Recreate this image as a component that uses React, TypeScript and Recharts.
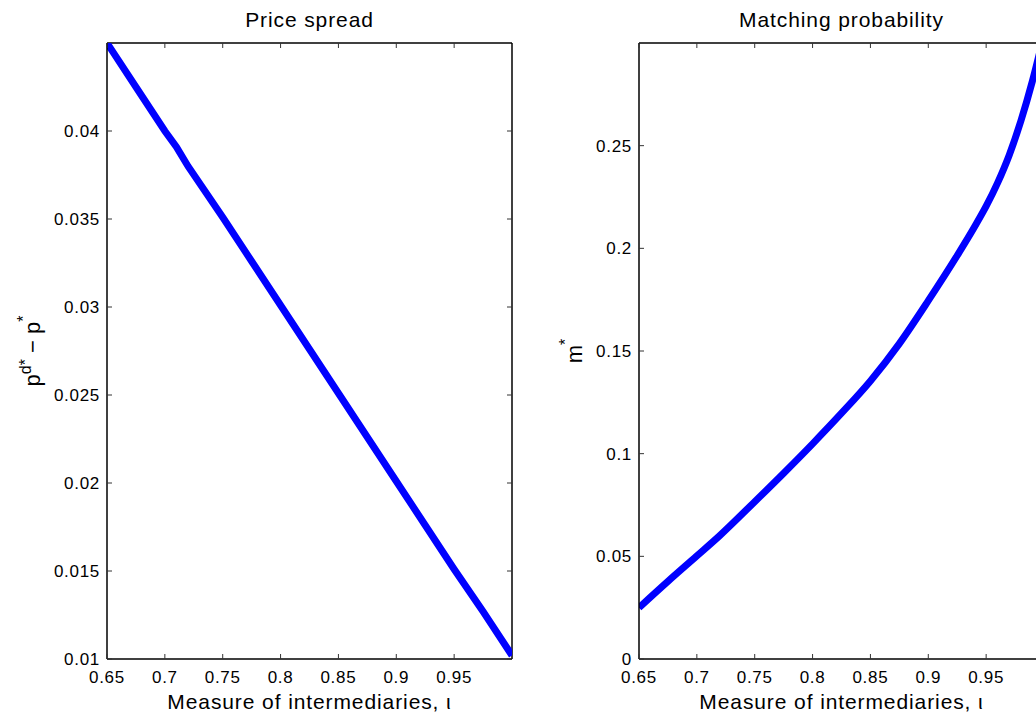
import React from 'react';
import { LineChart, Line, XAxis, YAxis, ReferenceLine } from 'recharts';

// measure of intermediaries (x axis, shared by both panels)
const iotaTicks = [0.65, 0.7, 0.75, 0.8, 0.85, 0.9, 0.95];

// left panel: price spread p^{d*} - p^*
const spreadIota = [0.65, 0.675, 0.7, 0.71, 0.72, 0.75, 0.775, 0.8, 0.825, 0.85, 0.875, 0.9, 0.925, 0.95, 0.975, 1.0];
const spreadValues = [0.045, 0.0425, 0.04, 0.0391, 0.038, 0.0351, 0.0326, 0.0301, 0.0276, 0.0251, 0.0226, 0.0201, 0.0176, 0.0151, 0.0127, 0.0102];
const spreadTicks = [0.01, 0.015, 0.02, 0.025, 0.03, 0.035, 0.04];

// right panel: matching probability m^*
const matchIota = [0.65, 0.675, 0.7, 0.72, 0.75, 0.775, 0.8, 0.825, 0.85, 0.875, 0.9, 0.925, 0.94, 0.95, 0.96, 0.97, 0.98, 0.99, 1.0];
const matchValues = [0.025, 0.0378, 0.0502, 0.0602, 0.0766, 0.0905, 0.1048, 0.1197, 0.1354, 0.1536, 0.1745, 0.1965, 0.2105, 0.2205, 0.232, 0.2455, 0.262, 0.2815, 0.304];
const matchTicks = [0, 0.05, 0.1, 0.15, 0.2, 0.25];

const FONT = '"Liberation Sans", Arial, Helvetica, sans-serif';
const W = 520;
const H = 716;
const PLOT = { left: 107, right: 512, top: 43, bottom: 659 };
const MARGIN = { top: 43, right: 8, bottom: 7, left: 47 };
const TICK_LEN = 5;

const toRows = (xs: number[], ys: number[]) => xs.map((x, i) => ({ x, y: ys[i] }));

const axisStyle = { stroke: '#000', strokeWidth: 1.5 };

// matlab style: tick marks point inward, on both sides of the box
const XTick = (props: any) => {
  const { x, payload } = props;
  return (
    <g>
      <line x1={x} x2={x} y1={PLOT.bottom} y2={PLOT.bottom - TICK_LEN} stroke="#333" />
      <line x1={x} x2={x} y1={PLOT.top} y2={PLOT.top + TICK_LEN} stroke="#333" />
      <text x={x} y={PLOT.bottom + 24} textAnchor="middle" fontSize={17} fontFamily={FONT} letterSpacing={0.7} fill="#000">
        {String(payload.value)}
      </text>
    </g>
  );
};

const YTick = (props: any) => {
  const { y, payload } = props;
  return (
    <g>
      <line x1={PLOT.left} x2={PLOT.left + TICK_LEN} y1={y} y2={y} stroke="#333" />
      <line x1={PLOT.right} x2={PLOT.right - TICK_LEN} y1={y} y2={y} stroke="#333" />
      <text x={PLOT.left - 7} y={y + 6} textAnchor="end" fontSize={17} fontFamily={FONT} letterSpacing={0.7} fill="#000">
        {String(payload.value)}
      </text>
    </g>
  );
};

interface PanelProps {
  left: number;
  title: string;
  rows: { x: number; y: number }[];
  yDomain: [number, number];
  yTicks: number[];
  yLabel: (cy: number) => React.ReactNode;
  curve: 'linear' | 'monotone';
}

const Panel = ({ left, title, rows, yDomain, yTicks, yLabel, curve }: PanelProps) => {
  const cx = (PLOT.left + PLOT.right) / 2;
  const cy = (PLOT.top + PLOT.bottom) / 2;
  return (
    <div style={{ position: 'absolute', left, top: 0 }}>
      <LineChart width={W} height={H} data={rows} margin={MARGIN}>
        <XAxis
          dataKey="x"
          type="number"
          domain={[0.65, 1]}
          allowDataOverflow
          ticks={iotaTicks}
          interval={0}
          height={50}
          tickLine={false}
          tick={<XTick />}
          axisLine={axisStyle}
          label={() => (
            <g>
              <text x={cx} y={27} textAnchor="middle" fontSize={21} fontFamily={FONT} letterSpacing={0.9} fill="#000">
                {title}
              </text>
              <text x={cx} y={PLOT.bottom + 50} textAnchor="middle" fontSize={21} fontFamily={FONT} letterSpacing={0.9} fill="#000">
                Measure of intermediaries, ι
              </text>
            </g>
          )}
        />
        <YAxis
          type="number"
          domain={yDomain}
          allowDataOverflow
          ticks={yTicks}
          interval={0}
          width={60}
          tickLine={false}
          tick={<YTick />}
          axisLine={axisStyle}
          label={() => yLabel(cy)}
        />
        <ReferenceLine y={yDomain[1]} stroke="#000" strokeWidth={1.5} />
        <ReferenceLine x={1} stroke="#000" strokeWidth={1.5} />
        <Line
          dataKey="y"
          type={curve}
          stroke="#0000ff"
          strokeWidth={7}
          dot={false}
          activeDot={false}
          isAnimationActive={false}
        />
      </LineChart>
    </div>
  );
};

const spreadLabel = (cy: number) => (
  <text transform={`rotate(-90 40 ${cy})`} x={40} y={cy} textAnchor="middle" fontSize={22} fontFamily={FONT} fill="#000">
    p<tspan fontSize={16} dy={-9}>d*</tspan>
    <tspan fontSize={22} dy={9}> − p</tspan>
    <tspan fontSize={16} dy={-11}>*</tspan>
  </text>
);

const matchLabel = (cy: number) => (
  <text transform={`rotate(-90 50 ${cy})`} x={50} y={cy} textAnchor="middle" fontSize={22} fontFamily={FONT} fill="#000">
    m<tspan fontSize={16} dy={-11}>*</tspan>
  </text>
);

export default function App() {
  return (
    <div style={{ position: 'absolute', left: 0, top: 0, width: 1036, height: 716, overflow: 'hidden', background: '#fff' }}>
      <Panel
        left={0}
        title="Price spread"
        rows={toRows(spreadIota, spreadValues)}
        yDomain={[0.01, 0.045]}
        yTicks={spreadTicks}
        yLabel={spreadLabel}
        curve="linear"
      />
      <Panel
        left={532}
        title="Matching probability"
        rows={toRows(matchIota, matchValues)}
        yDomain={[0, 0.3]}
        yTicks={matchTicks}
        yLabel={matchLabel}
        curve="monotone"
      />
    </div>
  );
}
